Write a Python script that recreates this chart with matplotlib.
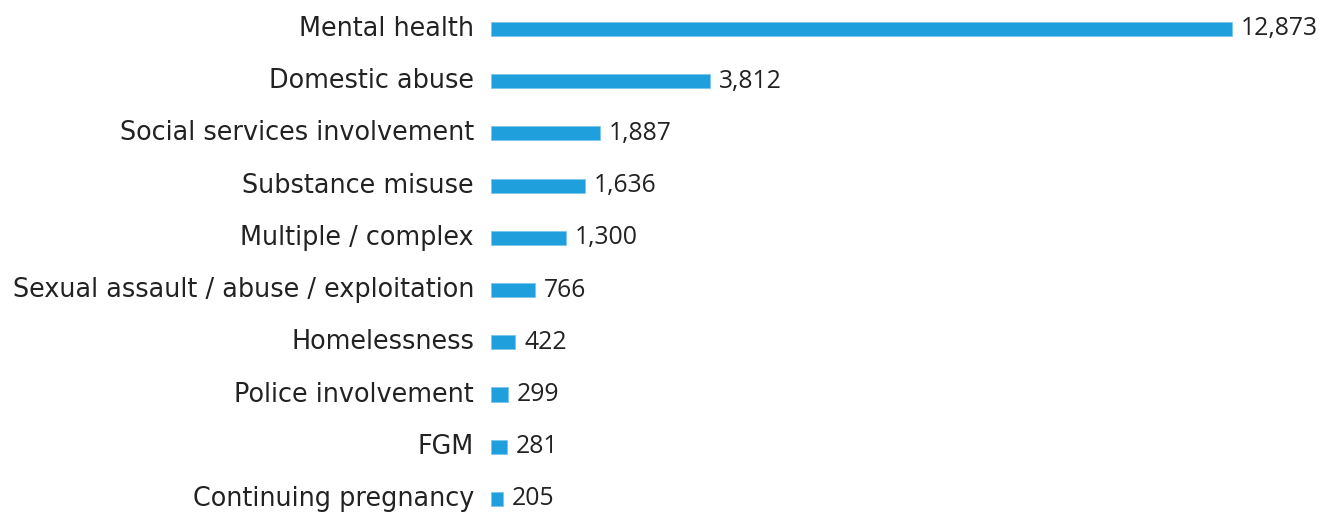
import matplotlib
matplotlib.use("Agg")
import matplotlib.pyplot as plt

categories = [
    "Mental health",
    "Domestic abuse",
    "Social services involvement",
    "Substance misuse",
    "Multiple / complex",
    "Sexual assault / abuse / exploitation",
    "Homelessness",
    "Police involvement",
    "FGM",
    "Continuing pregnancy",
]
values = [12873, 3812, 1887, 1636, 1300, 766, 422, 299, 281, 205]

bar_color = "#1f9fdb"
text_color = "#222222"
label_font = ["DejaVu Sans"]
value_font = ["Open Sans", "DejaVu Sans"]

fig = plt.figure(figsize=(13.2, 5.14), dpi=100)
ax = fig.add_axes([491 / 1320, 0, 1 - 491 / 1320, 1])

ypos = list(range(len(categories)))
ax.barh(ypos, values, height=0.27, color=bar_color, edgecolor="#7cc6ea", linewidth=0.6)

xmax = 12873 * (1320 - 491) / (1232 - 491)
ax.set_xlim(0, xmax)
ax.set_ylim(9.288, -0.555)

px = xmax / (1320 - 491)
for y, (cat, v) in enumerate(zip(categories, values)):
    ax.text(-17 * px, y, cat, ha="right", va="center", fontsize=18.4,
            family=label_font, color=text_color, clip_on=False)
    ax.text(v + 9 * px, y, f"{v:,}", ha="left", va="center", fontsize=17.8,
            family=value_font, color=text_color)

ax.axis("off")
fig.savefig("out.png", dpi=100)
